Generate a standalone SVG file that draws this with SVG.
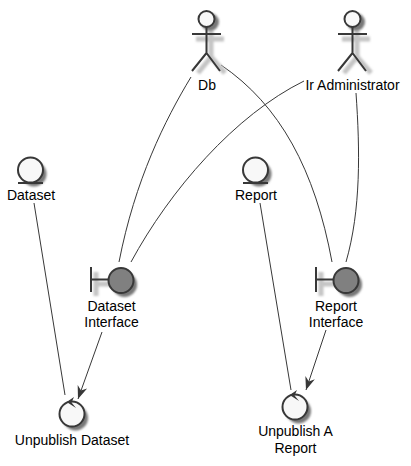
<svg xmlns="http://www.w3.org/2000/svg" width="411" height="466" viewBox="0 0 411 466">
<defs>
<filter id="sh" x="-50%" y="-50%" width="200%" height="200%"><feGaussianBlur stdDeviation="1.2"/></filter>
<marker id="arr" markerUnits="userSpaceOnUse" markerWidth="14" markerHeight="12" refX="13" refY="5" orient="auto" viewBox="0 0 14 10"><path d="M13 5 L0 0 L4 5 L0 10 Z" fill="#383838"/></marker>
</defs>
<style>
text{font-family:"Liberation Sans",Arial,sans-serif;font-size:14px;fill:#000;text-anchor:middle}
.l{fill:none;stroke:#383838;stroke-width:1}
.s{fill:none;stroke:#383838;stroke-width:2}
.b{fill:#f8f8f8;stroke:#383838;stroke-width:2}
.f{fill:#808080;stroke:#383838;stroke-width:2}
.shf{fill:#777;filter:url(#sh)}
.shs{fill:none;stroke:#c4c4c4;stroke-width:5;filter:url(#sh)}
.hd{fill:#383838}
</style>
<rect width="411" height="466" fill="#fff"/>
<g id="connectors">
<path class="l" d="M191 77 C165 120 135 180 119 262"/>
<path class="l" d="M221 65 C280 105 315 170 332 262"/>
<path class="l" d="M304 81 C235 115 170 190 131 262"/>
<path class="l" d="M356 93 C360 150 361 210 346 262"/>
<path class="l" d="M34 203 L65 395"/>
<path class="l" d="M260 203 L291 390"/>
<path class="l" d="M102 332 L78 399" marker-end="url(#arr)"/>
<path class="l" d="M326 330 L306 390" marker-end="url(#arr)"/>
</g>
<g id="db">
<path class="shs" d="M211 30V57M196 39H224M211 57L198 73M211 57L225 73"/><circle class="shf" cx="210" cy="22" r="9"/>
<circle class="b" cx="206.500" cy="19" r="8"/><path class="s" d="M206.500 27V53M192 34H221M206.500 53L192 71M206.500 53L220 71"/>
<text x="207" y="90">Db</text>
</g>
<g id="ir-administrator">
<path class="shs" d="M357 30V57M342 39H370M357 57L344 73M357 57L371 73"/><circle class="shf" cx="356" cy="22" r="9"/>
<circle class="b" cx="352.500" cy="19" r="8"/><path class="s" d="M352.500 27V53M338 34H367M352.500 53L338 71M352.500 53L366 71"/>
<text x="352.500" y="90">Ir Administrator</text>
</g>
<g id="dataset">
<circle class="shf" cx="34" cy="174" r="12.500"/>
<circle class="b" cx="30.500" cy="170" r="12.500"/><path class="s" d="M18 183H43"/>
<text x="31" y="200">Dataset</text>
</g>
<g id="report">
<circle class="shf" cx="259" cy="174" r="12.500"/>
<circle class="b" cx="255.500" cy="170" r="12.500"/><path class="s" d="M243 183H268"/>
<text x="256" y="200">Report</text>
</g>
<g id="dataset-interface">
<path class="shs" d="M96 272V296M96 284H110"/><circle class="shf" cx="124.500" cy="284.500" r="12.500"/>
<path class="s" d="M91 267V292M91 279.500H108"/><circle class="f" cx="121" cy="280.500" r="12.500"/>
<text x="111.500" y="311">Dataset</text><text x="111.500" y="327">Interface</text>
</g>
<g id="report-interface">
<path class="shs" d="M321 272V296M321 284H335"/><circle class="shf" cx="349.500" cy="284.500" r="12.500"/>
<path class="s" d="M316 267V292M316 279.500H333"/><circle class="f" cx="346" cy="280.500" r="12.500"/>
<text x="336" y="311">Report</text><text x="336" y="327">Interface</text>
</g>
<g id="unpublish-dataset">
<circle class="shf" cx="75.500" cy="418" r="12.500"/>
<circle class="b" cx="72" cy="414" r="12.500"/>
<path class="hd" d="M66.700 402L74 397L71.500 402.500L76 408Z"/>
<text x="72" y="445">Unpublish Dataset</text>
</g>
<g id="unpublish-a-report">
<circle class="shf" cx="298.500" cy="411" r="12.500"/>
<circle class="b" cx="295" cy="407" r="12.500"/>
<path class="hd" d="M289.700 395L297 390L294.500 395.500L299 401Z"/>
<text x="295.500" y="436">Unpublish A</text><text x="295.500" y="453">Report</text>
</g>
</svg>
